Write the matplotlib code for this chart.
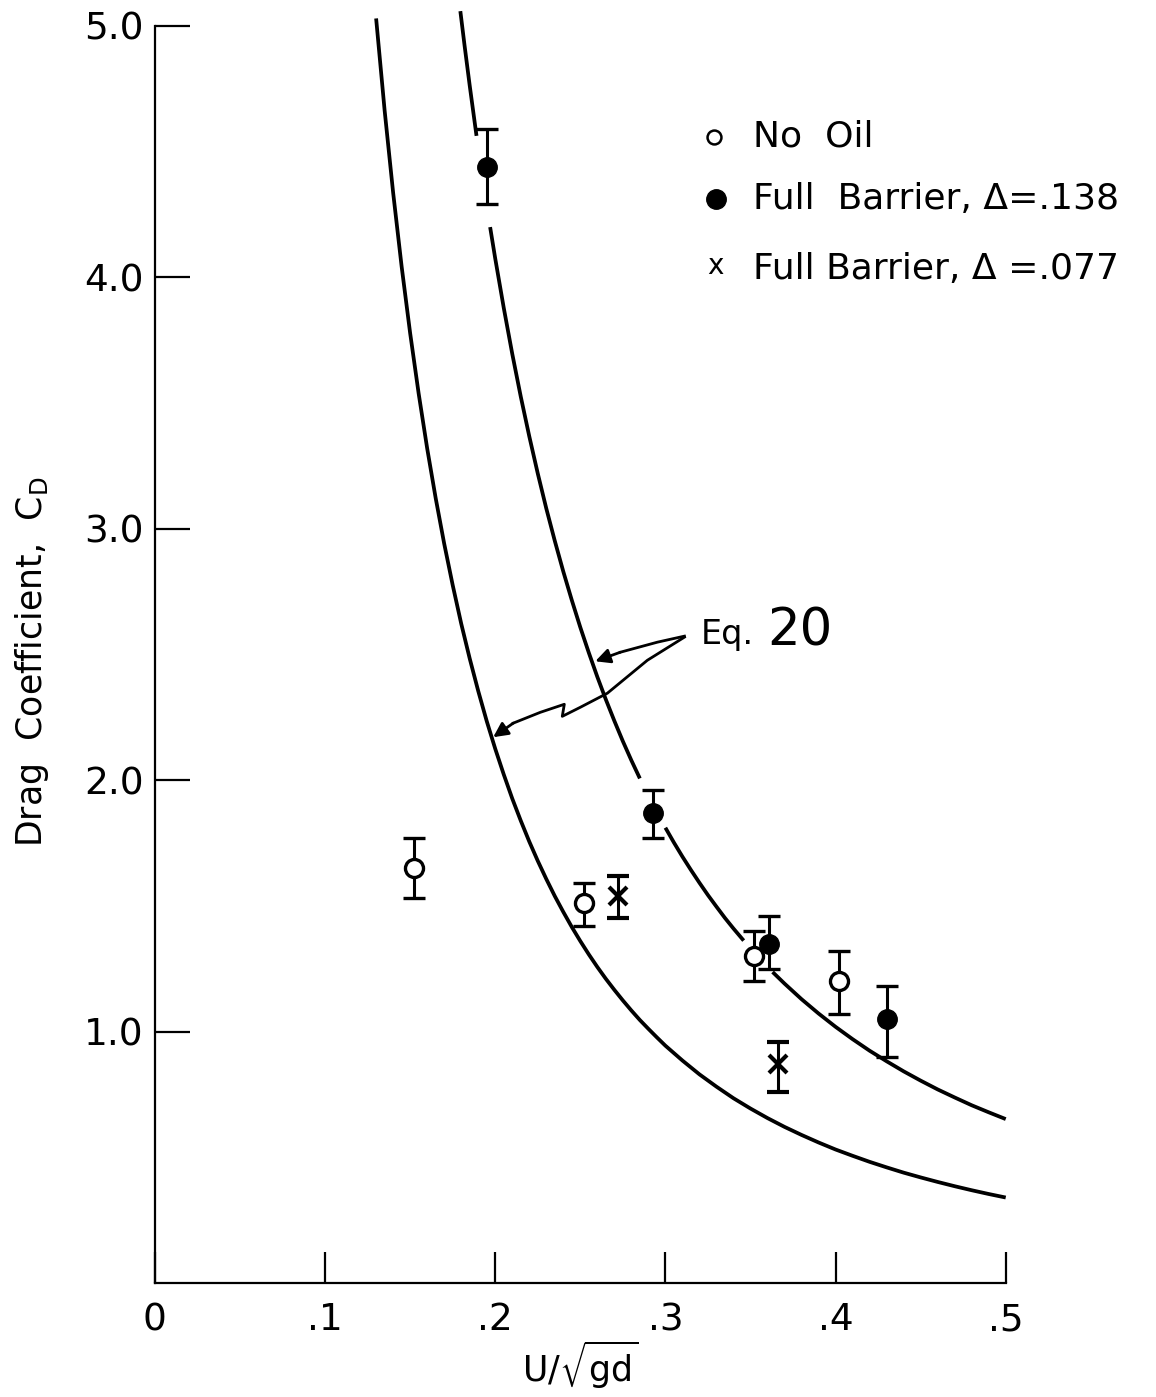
import numpy as np
import matplotlib.pyplot as plt

plt.rcParams['font.family'] = ['DejaVu Sans']

# measured drag coefficients, with error bar ends
no_oil_u = [0.152, 0.252, 0.352, 0.402]
no_oil_cd = [1.65, 1.51, 1.30, 1.20]
no_oil_lo = [1.53, 1.42, 1.20, 1.07]
no_oil_hi = [1.77, 1.59, 1.40, 1.32]

b138_u = [0.195, 0.293, 0.361, 0.430]
b138_cd = [4.44, 1.87, 1.35, 1.05]
b138_lo = [4.29, 1.77, 1.25, 0.90]
b138_hi = [4.59, 1.96, 1.46, 1.18]

b077_u = [0.272, 0.366]
b077_cd = [1.54, 0.87]
b077_lo = [1.45, 0.76]
b077_hi = [1.62, 0.96]

# Eq. 20 curves
eq20_lower_u = [0.13, 0.135, 0.14, 0.145, 0.15, 0.155, 0.16, 0.165, 0.17, 0.175,
                0.18, 0.185, 0.19, 0.195, 0.20, 0.205, 0.21, 0.215, 0.22, 0.225,
                0.23, 0.235, 0.24, 0.245, 0.25, 0.255, 0.26, 0.265, 0.27, 0.275,
                0.28, 0.285, 0.29, 0.295, 0.30, 0.31, 0.32, 0.33, 0.34, 0.35,
                0.36, 0.37, 0.38, 0.39, 0.40, 0.41, 0.42, 0.43, 0.44, 0.45,
                0.46, 0.47, 0.48, 0.49, 0.50]
eq20_lower_cd = [5.030, 4.664, 4.337, 4.043, 3.778, 3.538, 3.320, 3.122, 2.941, 2.776,
                 2.623, 2.484, 2.355, 2.235, 2.125, 2.023, 1.927, 1.839, 1.756, 1.679,
                 1.607, 1.539, 1.476, 1.416, 1.360, 1.307, 1.257, 1.210, 1.166, 1.124,
                 1.084, 1.046, 1.011, 0.977, 0.944, 0.885, 0.830, 0.781, 0.735, 0.694,
                 0.656, 0.621, 0.589, 0.559, 0.531, 0.506, 0.482, 0.460, 0.439, 0.420,
                 0.402, 0.385, 0.369, 0.354, 0.340]

# upper curve is broken where it runs through the error bars
eq20_upper_u = [0.1795, 0.182, 0.185, 0.189, np.nan,
                0.197, 0.20, 0.205, 0.21, 0.215, 0.22, 0.225, 0.23, 0.235, 0.24,
                0.245, 0.25, 0.255, 0.26, 0.265, 0.27, 0.275, 0.28, 0.285, np.nan,
                0.300, 0.305, 0.31, 0.315, 0.32, 0.325, 0.33, 0.335, 0.34, 0.346, np.nan,
                0.363, 0.37, 0.38, 0.39, 0.40, 0.41, 0.42, 0.43, 0.44, 0.45,
                0.46, 0.47, 0.48, 0.49, 0.50]
eq20_upper_cd = [5.059, 4.921, 4.763, 4.563, np.nan,
                 4.200, 4.075, 3.879, 3.696, 3.526, 3.368, 3.220, 3.081, 2.952, 2.830,
                 2.716, 2.608, 2.507, 2.411, 2.321, 2.236, 2.155, 2.079, 2.007, np.nan,
                 1.811, 1.752, 1.696, 1.643, 1.592, 1.543, 1.497, 1.452, 1.410, 1.362, np.nan,
                 1.237, 1.191, 1.129, 1.072, 1.019, 0.970, 0.924, 0.882, 0.842, 0.805,
                 0.770, 0.738, 0.707, 0.679, 0.652]

x_ticks = [0.1, 0.2, 0.3, 0.4, 0.5]
x_labels = ['.1', '.2', '.3', '.4', '.5']
y_ticks = [1, 2, 3, 4, 5]
y_labels = ['1.0', '2.0', '3.0', '4.0', '5.0']


def err(y, lo, hi):
    y = np.array(y)
    return [y - np.array(lo), np.array(hi) - y]


fig = plt.figure(figsize=(11.56, 13.97), dpi=100)
ax = fig.add_axes([0.134, 0.0816, 0.736, 0.8998])
ax.set_xlim(0, 0.5)
ax.set_ylim(0, 5)

for s in ('top', 'right'):
    ax.spines[s].set_visible(False)
for s in ('left', 'bottom'):
    ax.spines[s].set_linewidth(1.6)

curve_kw = dict(color='black', lw=2.7, clip_on=False,
                solid_joinstyle='round', solid_capstyle='butt')
ax.plot(eq20_lower_u, eq20_lower_cd, **curve_kw)
ax.plot(eq20_upper_u, eq20_upper_cd, **curve_kw)

ebar = dict(ecolor='black', elinewidth=2.2, capsize=8, capthick=2.4, linestyle='none')
ax.errorbar(no_oil_u, no_oil_cd, yerr=err(no_oil_cd, no_oil_lo, no_oil_hi),
            marker='o', ms=13, mfc='white', mec='black', mew=2.4, **ebar)
ax.errorbar(b138_u, b138_cd, yerr=err(b138_cd, b138_lo, b138_hi),
            marker='o', ms=14, mfc='black', mec='black', **ebar)
ax.errorbar(b077_u, b077_cd, yerr=err(b077_cd, b077_lo, b077_hi),
            marker='x', ms=13, mec='black', mew=3, **ebar)

# legend drawn by hand
ax.plot([0.657], [0.912], 'o', ms=10, mfc='white', mec='black', mew=1.8,
        transform=ax.transAxes, clip_on=False)
ax.plot([0.659], [0.862], 'o', ms=14, color='black',
        transform=ax.transAxes, clip_on=False)
ax.text(0.659, 0.809, 'x', fontsize=20, ha='center', va='center',
        transform=ax.transAxes)
leg_kw = dict(fontsize=26, ha='left', va='center', transform=ax.transAxes)
ax.text(0.703, 0.912, 'No  Oil', **leg_kw)
ax.text(0.703, 0.862, 'Full  Barrier, \u0394=.138', **leg_kw)
ax.text(0.703, 0.807, 'Full Barrier, \u0394 =.077', **leg_kw)

# Eq. 20 callout
ax.text(0.3206, 2.58, 'Eq.', fontsize=24, ha='left', va='center')
ax.text(0.360, 2.59, '20', fontsize=37, ha='left', va='center')
arrow_kw = dict(arrowstyle='-|>', mutation_scale=22, lw=2, color='black',
                shrinkA=0, shrinkB=0)
up_path = [(0.3112, 2.573), (0.2953, 2.549), (0.2735, 2.509)]
ax.plot(*zip(*up_path), color='black', lw=2)
ax.annotate('', xy=(0.2588, 2.473), xytext=up_path[-1], arrowprops=arrow_kw)
low_path = [(0.3112, 2.569), (0.2894, 2.477), (0.2659, 2.346), (0.250, 2.290),
            (0.2394, 2.254), (0.2406, 2.302), (0.2265, 2.270), (0.2106, 2.227)]
ax.plot(*zip(*low_path), color='black', lw=2)
ax.annotate('', xy=(0.1988, 2.171), xytext=low_path[-1], arrowprops=arrow_kw)

ax.set_xticks([0] + x_ticks)
ax.set_xticklabels(['0'] + x_labels)
ax.set_yticks(y_ticks)
ax.set_yticklabels(y_labels)
ax.tick_params(axis='x', direction='in', length=22, width=1.6, pad=14, labelsize=27)
ax.tick_params(axis='y', direction='in', length=25, width=1.6, pad=8, labelsize=27)

ax.set_xlabel(r'U/$\sqrt{\mathrm{gd}}$', fontsize=25, labelpad=0)
ax.set_ylabel(r'Drag  Coefficient,  C$_\mathrm{D}$', fontsize=25)
ax.yaxis.set_label_coords(-0.122, 0.494)

fig.savefig('out.png', dpi=100)
